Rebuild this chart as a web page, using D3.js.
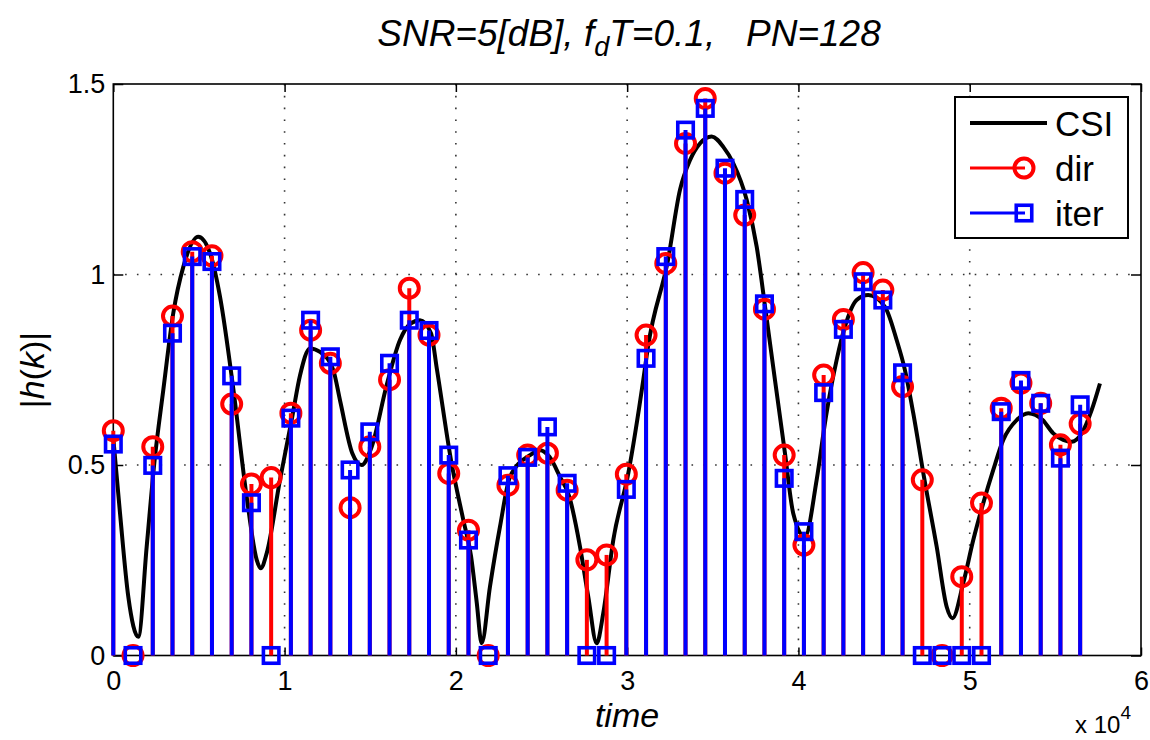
<!DOCTYPE html>
<html>
<head>
<meta charset="utf-8">
<script src="https://cdn.jsdelivr.net/npm/d3@7"></script>
<style>
  body { margin: 0; background: #fff; }
  svg { display: block; }
  text { font-family: "Liberation Sans", Arial, Helvetica, sans-serif; fill: #000; }
</style>
</head>
<body>
<svg id="chart" width="1150" height="740"></svg>
<script>
// ---- data ----
// channel state (true |h|), sampled along time
const csiTime = [0, 391, 876, 1460, 1950, 2394, 2919, 3503, 4087, 4962,
  5645, 6229, 7006, 7785, 8372, 8605, 8955, 9732, 10450, 10900,
  11483, 12067, 12844, 13235, 13953, 14502, 15086, 15961, 16738, 17380,
  17906, 18548, 18898, 19715, 20433, 20883, 21216, 21507, 21992, 22576,
  23160, 24328, 24911, 25454, 26079, 26622, 27246, 27731, 28221, 28606,
  29190, 30066, 30941, 31216, 32383, 33084, 33668, 34252, 34935, 35612,
  36196, 36978, 37562, 38105, 38630, 39214, 39698, 40381, 41064, 41607,
  42232, 42716, 43399, 44077, 45051, 45734, 46219, 46704, 47329, 48070,
  48654, 48993, 49623, 50207, 50791, 51374, 51958, 52741, 53418, 54259,
  54877, 55461, 55951, 56535, 57119, 57604];
const csiValue = [0.57, 0.374, 0.154, 0.049, 0.286, 0.505, 0.697, 0.899, 1.02, 1.099,
  1.056, 0.942, 0.70, 0.417, 0.251, 0.229, 0.268, 0.461, 0.627, 0.735,
  0.806, 0.797, 0.749, 0.67, 0.531, 0.50, 0.548, 0.71, 0.828, 0.872,
  0.88, 0.846, 0.75, 0.513, 0.356, 0.262, 0.14, 0.032, 0.181, 0.338,
  0.469, 0.526, 0.539, 0.522, 0.469, 0.417, 0.286, 0.154, 0.032, 0.111,
  0.303, 0.478, 0.723, 0.81, 1.038, 1.222, 1.30, 1.344, 1.362, 1.335,
  1.292, 1.196, 1.073, 0.898, 0.723, 0.531, 0.373, 0.312, 0.461, 0.627,
  0.776, 0.863, 0.933, 0.946, 0.915, 0.828, 0.749, 0.636, 0.469, 0.286,
  0.128, 0.098, 0.19, 0.303, 0.40, 0.487, 0.566, 0.618, 0.636, 0.618,
  0.583, 0.566, 0.561, 0.583, 0.644, 0.714];

// pilot-based estimates, one per pilot block
const sampleStep = 1152;
const dirValue = [0.59, 0, 0.548, 0.891, 1.06, 1.049, 0.66, 0.45, 0.467, 0.636,
  0.854, 0.767, 0.388, 0.548, 0.724, 0.964, 0.841, 0.478, 0.329, 0,
  0.447, 0.526, 0.531, 0.434, 0.251, 0.264, 0.476, 0.841, 1.029, 1.344,
  1.462, 1.266, 1.156, 0.909, 0.526, 0.29, 0.736, 0.882, 1.005, 0.959,
  0.706, 0.461, 0, 0.207, 0.40, 0.649, 0.715, 0.662, 0.553, 0.608];
const iterValue = [0.555, 0, 0.499, 0.846, 1.047, 1.034, 0.734, 0.401, 0, 0.623,
  0.88, 0.784, 0.487, 0.587, 0.767, 0.88, 0.853, 0.526, 0.303, 0,
  0.472, 0.52, 0.60, 0.452, 0, 0, 0.436, 0.78, 1.047, 1.379,
  1.436, 1.279, 1.197, 0.923, 0.465, 0.325, 0.69, 0.856, 0.981, 0.933,
  0.742, 0, 0, 0, 0, 0.64, 0.722, 0.662, 0.518, 0.658];

const xTickValues = [0, 10000, 20000, 30000, 40000, 50000, 60000];
const yTickValues = [0, 0.5, 1, 1.5];
const seriesNames = ["CSI", "dir", "iter"];

// ---- layout ----
const svg = d3.select("#chart");
const plot = { left: 113.3, right: 1141, top: 84, bottom: 655.5 };
const x = d3.scaleLinear().domain([0, 60000]).range([plot.left, plot.right]);
const y = d3.scaleLinear().domain([0, 1.5]).range([plot.bottom, plot.top]);

const RED = "#ff0000", BLUE = "#0000ff";

// dotted grid
const grid = svg.append("g").attr("stroke", "#333").attr("stroke-width", 1.6)
  .attr("stroke-dasharray", "1.6,10.2");
grid.selectAll("line.gx").data(xTickValues.slice(1, -1)).join("line")
  .attr("x1", d => x(d)).attr("x2", d => x(d))
  .attr("y1", y(1.5)).attr("y2", y(0));
grid.selectAll("line.gy").data(yTickValues.slice(1, -1)).join("line")
  .attr("x1", x(0)).attr("x2", x(60000))
  .attr("y1", d => y(d)).attr("y2", d => y(d));

// axes (ticks pointing inward)
const fmtX = d => d3.format("d")(d / 1e4);
const fmtY = d => (d === 0 ? "0" : d3.format("")(d));
const axB = svg.append("g").attr("transform", `translate(0,${plot.bottom})`)
  .call(d3.axisBottom(x).tickValues(xTickValues).tickSizeInner(-8).tickSizeOuter(0)
    .tickPadding(15).tickFormat(fmtX));
const axT = svg.append("g").attr("transform", `translate(0,${plot.top})`)
  .call(d3.axisTop(x).tickValues(xTickValues).tickSizeInner(-8).tickSizeOuter(0).tickFormat(""));
const axL = svg.append("g").attr("transform", `translate(${plot.left},0)`)
  .call(d3.axisLeft(y).tickValues(yTickValues).tickSizeInner(-10).tickSizeOuter(0)
    .tickPadding(8).tickFormat(fmtY));
const axR = svg.append("g").attr("transform", `translate(${plot.right},0)`)
  .call(d3.axisRight(y).tickValues(yTickValues).tickSizeInner(-10).tickSizeOuter(0).tickFormat(""));
[axB, axT, axL, axR].forEach(g => {
  g.select(".domain").remove();
  g.selectAll(".tick line").attr("stroke", "#000").attr("stroke-width", 1.5);
  g.selectAll(".tick text").attr("font-size", 27).attr("fill", "#000")
    .attr("font-family", "'Liberation Sans', Arial, sans-serif");
});

// axes box
svg.append("rect")
  .attr("x", plot.left).attr("y", plot.top)
  .attr("width", plot.right - plot.left).attr("height", plot.bottom - plot.top)
  .attr("fill", "none").attr("stroke", "#000").attr("stroke-width", 1.6);

// CSI curve
const csi = csiTime.map((t, i) => [t, csiValue[i]]);
svg.append("path").datum(csi)
  .attr("fill", "none").attr("stroke", "#000").attr("stroke-width", 4)
  .attr("stroke-linejoin", "round")
  .attr("d", d3.line().x(d => x(d[0])).y(d => y(d[1])).curve(d3.curveMonotoneX));

// stem series
function drawStems(values, color, marker) {
  const g = svg.append("g");
  const pts = values.map((v, k) => ({ t: k * sampleStep, v }));
  g.selectAll("line").data(pts).join("line")
    .attr("x1", d => x(d.t)).attr("x2", d => x(d.t))
    .attr("y1", y(0)).attr("y2", d => y(d.v))
    .attr("stroke", color).attr("stroke-width", 4);
  if (marker === "circle") {
    g.selectAll("circle").data(pts).join("circle")
      .attr("cx", d => x(d.t)).attr("cy", d => y(d.v)).attr("r", 9.5)
      .attr("fill", "none").attr("stroke", color).attr("stroke-width", 4);
  } else {
    const s = 15.5;
    g.selectAll("rect").data(pts).join("rect")
      .attr("x", d => x(d.t) - s / 2).attr("y", d => y(d.v) - s / 2)
      .attr("width", s).attr("height", s)
      .attr("fill", "none").attr("stroke", color).attr("stroke-width", 3.6);
  }
}
drawStems(dirValue, RED, "circle");
drawStems(iterValue, BLUE, "square");

// title
const title = svg.append("text").attr("x", 629).attr("y", 46)
  .attr("text-anchor", "middle").attr("font-size", 37).attr("font-style", "italic")
  .style("white-space", "pre");
title.append("tspan").text("SNR=5[dB], f");
title.append("tspan").attr("font-size", 27).attr("dy", 10).text("d");
title.append("tspan").attr("dy", -10).text("T=0.1,   PN=128");

// axis labels
svg.append("text").attr("x", 627).attr("y", 727).attr("text-anchor", "middle")
  .attr("font-size", 34).attr("font-style", "italic").text("time");

const yl = svg.append("text").attr("transform", "translate(44,370) rotate(-90)")
  .attr("text-anchor", "middle").attr("font-size", 34);
yl.append("tspan").text("|");
yl.append("tspan").attr("font-style", "italic").text("h");
yl.append("tspan").text("(");
yl.append("tspan").attr("font-style", "italic").text("k");
yl.append("tspan").text(")|");

const mult = svg.append("text").attr("x", 1075).attr("y", 733).attr("font-size", 24);
mult.append("tspan").text("x 10");
mult.append("tspan").attr("font-size", 19).attr("dy", -14).text("4");

// legend
const lg = svg.append("g");
lg.append("rect").attr("x", 955).attr("y", 97).attr("width", 173).attr("height", 141)
  .attr("fill", "#fff").attr("stroke", "#000").attr("stroke-width", 2);
const rows = [123, 168, 213];
seriesNames.forEach((name, i) => {
  const cy = rows[i];
  const col = i === 0 ? "#000" : i === 1 ? RED : BLUE;
  lg.append("line").attr("x1", 970).attr("x2", 1040 - (i === 0 ? -7 : 15))
    .attr("y1", cy).attr("y2", cy).attr("stroke", col).attr("stroke-width", i === 0 ? 4 : 3);
  if (i === 1) {
    lg.append("circle").attr("cx", 1024).attr("cy", cy).attr("r", 9.5)
      .attr("fill", "none").attr("stroke", col).attr("stroke-width", 4);
  } else if (i === 2) {
    lg.append("rect").attr("x", 1024 - 7.75).attr("y", cy - 7.75).attr("width", 15.5).attr("height", 15.5)
      .attr("fill", "none").attr("stroke", col).attr("stroke-width", 3.6);
  }
  lg.append("text").attr("x", 1055).attr("y", cy + 13).attr("font-size", 35).text(name);
});
</script>
</body>
</html>
